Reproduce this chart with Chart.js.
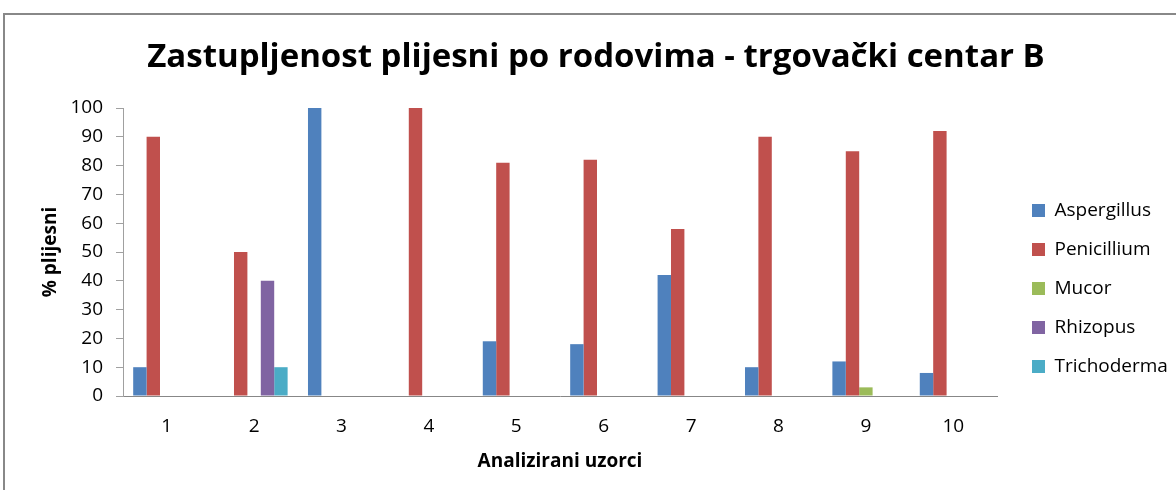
<!DOCTYPE html>
<html>
<head>
<meta charset="utf-8">
<title>Zastupljenost plijesni po rodovima</title>
<script src="https://cdn.jsdelivr.net/npm/chart.js@4.4.1/dist/chart.umd.min.js"></script>
<style>
  html, body { margin: 0; padding: 0; background: #fff; overflow: hidden; }
  #wrap { position: relative; width: 1176px; height: 490px; }
  /* grey chart frame, it runs off the right and bottom edge */
  #frame { position: absolute; left: 3px; top: 13px; width: 2000px; height: 2000px;
           border-left: 2px solid #888; border-top: 2px solid #888; }
  #chart { position: absolute; left: 0; top: 0; }
</style>
</head>
<body>
<div id="wrap">
  <div id="frame"></div>
  <canvas id="chart" width="1176" height="490"></canvas>
</div>
<script>
// Samples on the x axis
const samples = ['1', '2', '3', '4', '5', '6', '7', '8', '9', '10'];

// Share of each mould genus per sample (%)
const aspergillus = [10, 0, 100, 0, 19, 18, 42, 10, 12, 8];
const penicillium = [90, 50, 0, 100, 81, 82, 58, 90, 85, 92];
const mucor = [0, 0, 0, 0, 0, 0, 0, 0, 3, 0];
const rhizopus = [0, 40, 0, 0, 0, 0, 0, 0, 0, 0];
const trichoderma = [0, 10, 0, 0, 0, 0, 0, 0, 0, 0];

// y axis range
const yMin = 0;
const yMax = 100;
const yStep = 10;

Chart.defaults.font.family = '"Open Sans", Lato, sans-serif';
Chart.defaults.color = '#000';

function bars(label, data, color) {
  return {
    label: label,
    data: data,
    backgroundColor: color,
    borderWidth: 0,
    categoryPercentage: 0.767,
    barPercentage: 1.0,
  };
}

const ctx = document.getElementById('chart').getContext('2d');
const mouldChart = new Chart(ctx, {
  type: 'bar',
  data: {
    labels: samples,
    datasets: [
      bars('Aspergillus', aspergillus, '#4F81BD'),
      bars('Penicillium', penicillium, '#C0504D'),
      bars('Mucor', mucor, '#9BBB59'),
      bars('Rhizopus', rhizopus, '#8064A2'),
      bars('Trichoderma', trichoderma, '#4BACC6'),
    ],
  },
  options: {
    responsive: false,
    animation: false,
    layout: { padding: { left: 24, right: 8, top: 0, bottom: 0 } },
    plugins: {
      title: {
        display: true,
        text: 'Zastupljenost plijesni po rodovima - trgovački centar B',
        color: '#000',
        font: { size: 33, weight: 'bold' },
        padding: { top: 38, bottom: 30.4 },
      },
      legend: {
        position: 'right',
        align: 'end',
        fullSize: false,
        maxWidth: 156,
        labels: {
          boxWidth: 13,
          boxHeight: 13,
          padding: 20,
          color: '#000',
          font: { size: 19 },
        },
      },
      tooltip: { enabled: false },
    },
    scales: {
      x: {
        grid: { display: false, drawTicks: false },
        border: { display: true, color: '#878787', width: 1 },
        ticks: { padding: 19, font: { size: 19 } },
        title: {
          display: true,
          text: 'Analizirani uzorci',
          font: { size: 19, weight: 'bold' },
          padding: { top: 0, bottom: 17 },
        },
        afterFit: (scale) => { scale.height = 94; },
      },
      y: {
        min: yMin,
        max: yMax,
        ticks: { stepSize: yStep, padding: 13, font: { size: 19 } },
        grid: { drawOnChartArea: false, drawTicks: true, tickLength: 7, color: '#a0a0a0' },
        border: { display: true, color: '#a0a0a0', width: 1 },
        title: {
          display: true,
          text: '% plijesni',
          font: { size: 19, weight: 'bold' },
          padding: { top: 15, bottom: 0 },
        },
        afterFit: (scale) => { scale.width = 99; },
      },
      // empty strip that keeps the legend away from the plot
      gap: {
        position: 'right',
        display: true,
        grid: { display: false, drawTicks: false },
        border: { display: false },
        ticks: { display: false },
        afterFit: (scale) => { scale.width = 15; },
      },
    },
  },
});
</script>
</body>
</html>
